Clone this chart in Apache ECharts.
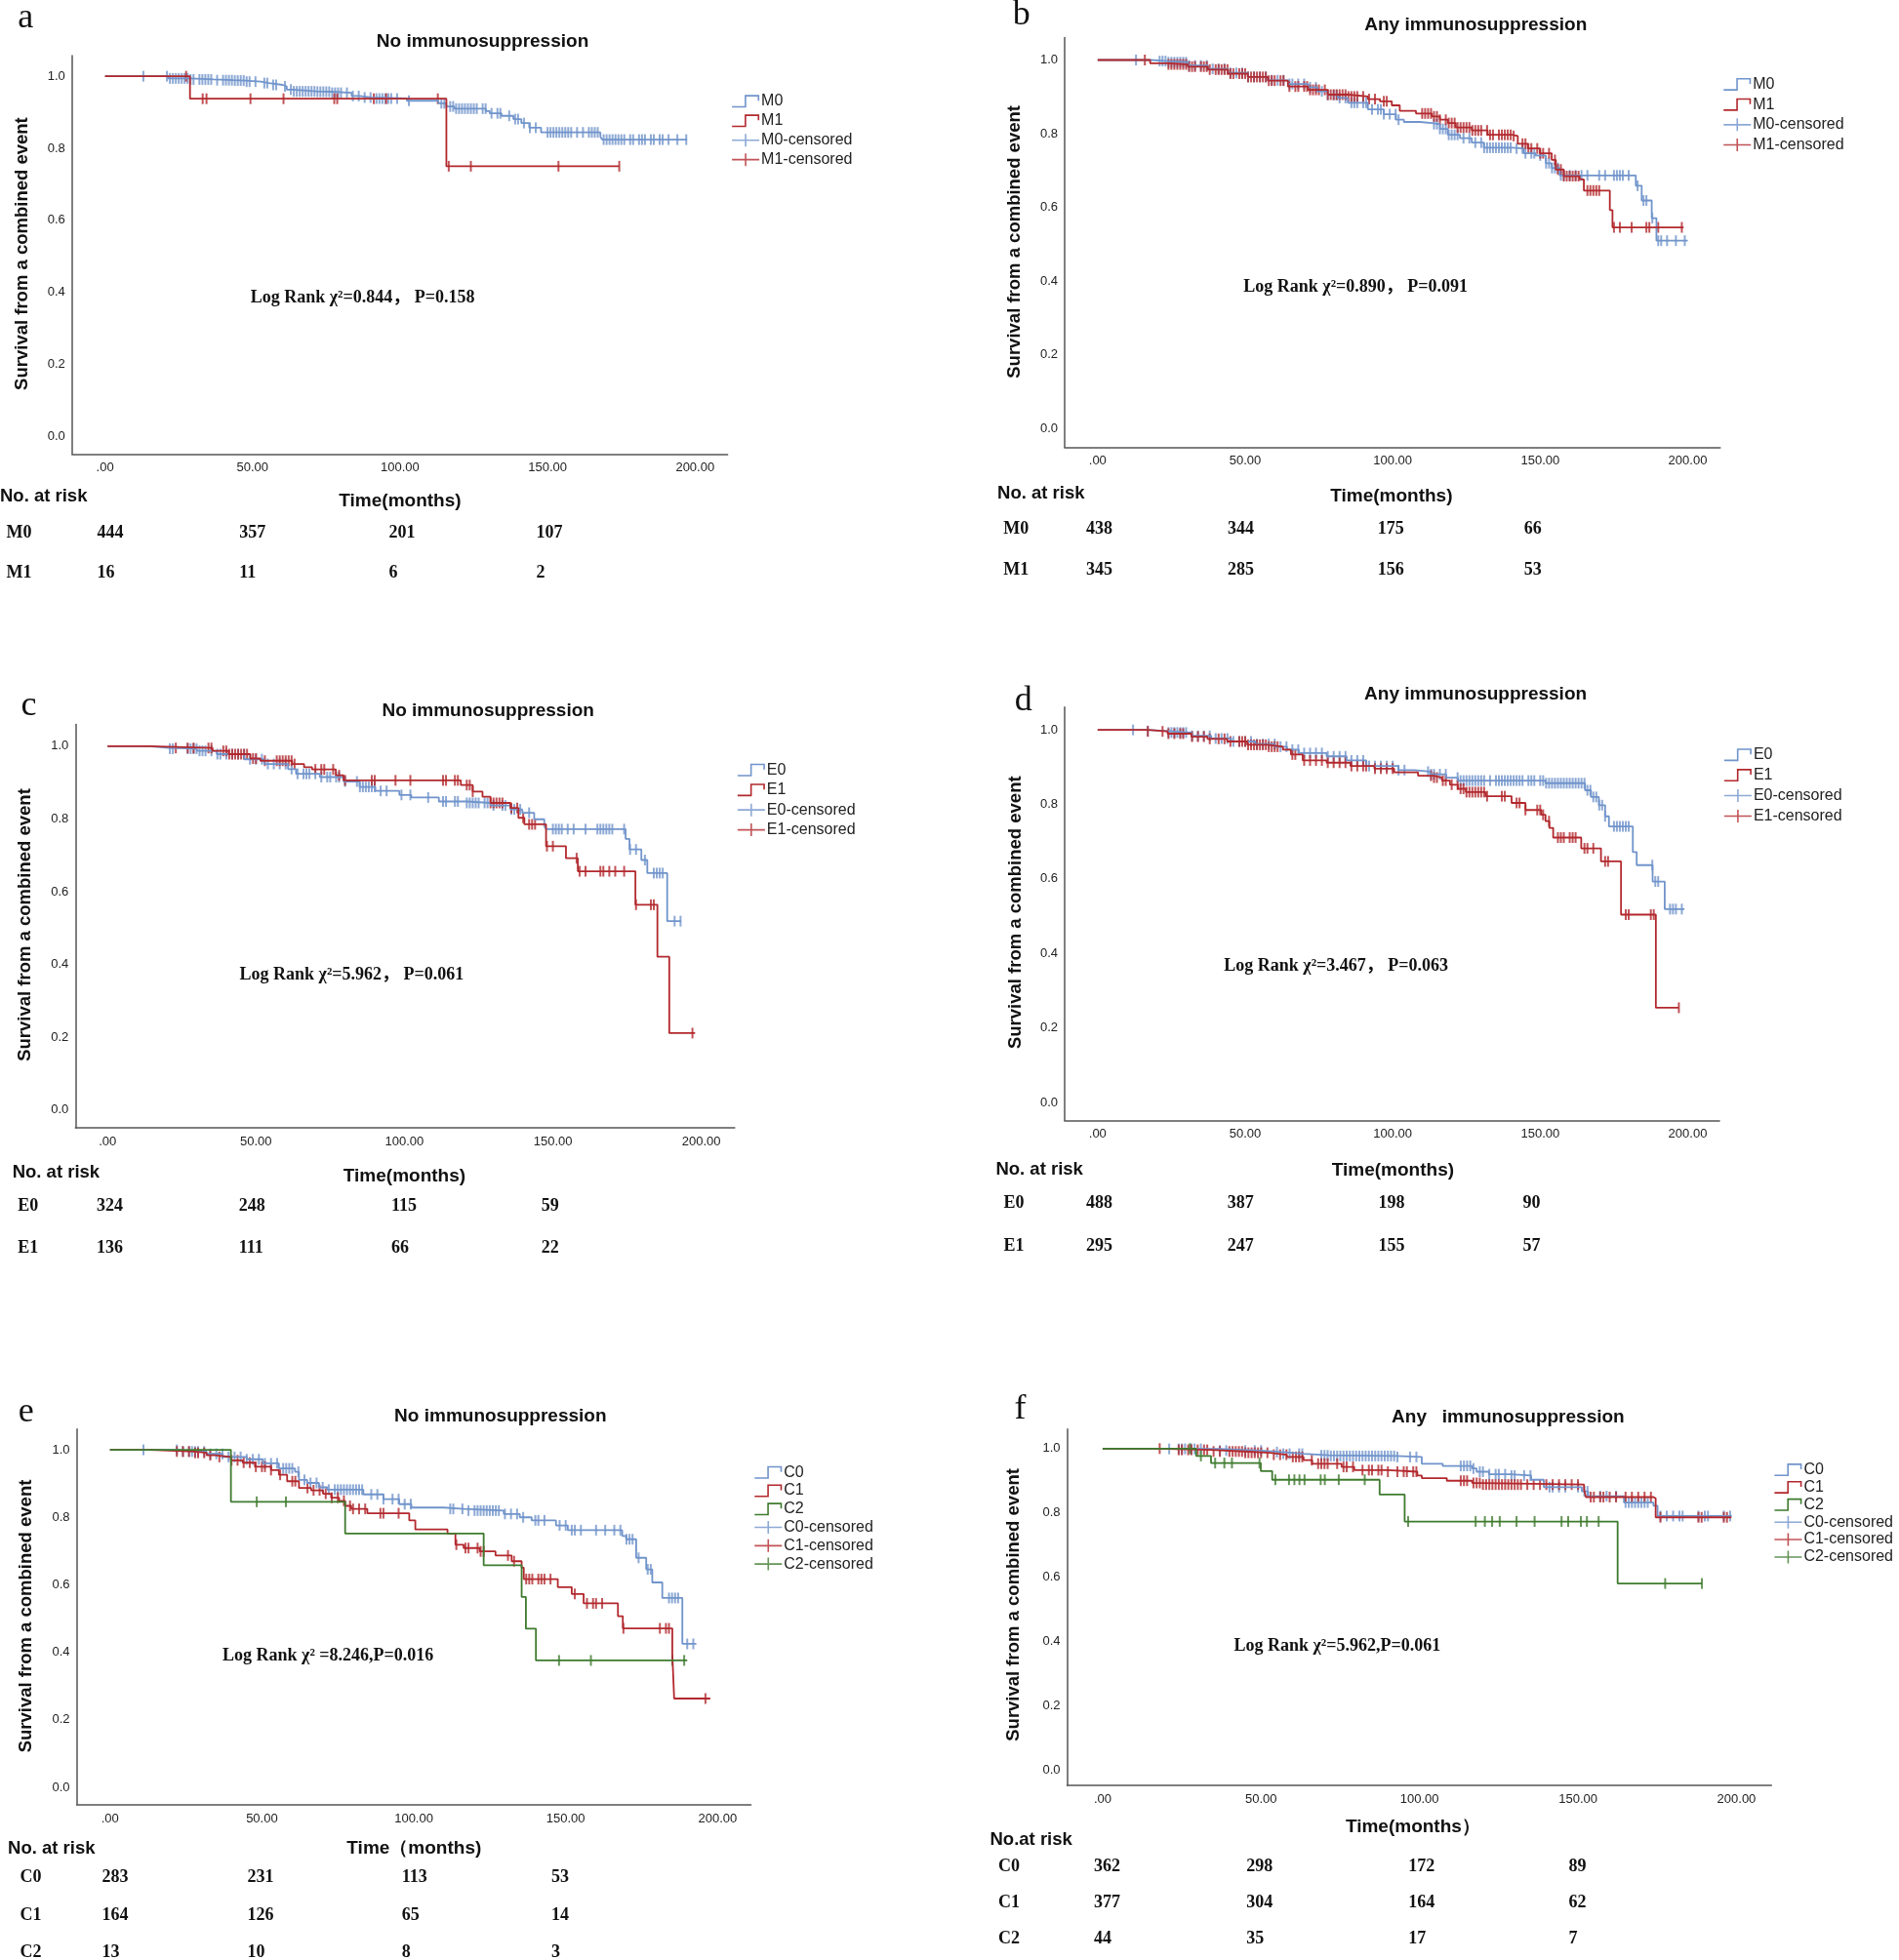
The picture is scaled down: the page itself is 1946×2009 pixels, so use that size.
<!DOCTYPE html>
<html>
<head>
<meta charset="utf-8">
<title>Survival from a combined event</title>
<script src="https://cdn.jsdelivr.net/npm/echarts@6/dist/echarts.min.js"></script>
<style>
html, body { margin: 0; padding: 0; background: #fff; }
#chart { width: 1946px; height: 2009px; }
</style>
</head>
<body>
<div id="chart"></div>
<script>
// ---- data: step points [months, survival] and censored times (months) ----
var a_M0_steps = [[0,1],[21.4,0.994],[28.8,0.991],[36.8,0.989],[43.5,0.988],[47.5,0.985],[52.9,0.981],[55.5,0.976],[60.2,0.972],[61.6,0.963],[63.6,0.958],[71.6,0.957],[76.9,0.954],[83.6,0.945],[86.3,0.941],[90.3,0.938],[102.3,0.932],[113.0,0.925],[115.7,0.916],[118.4,0.910],[129.1,0.903],[130.4,0.897],[134.4,0.890],[138.4,0.881],[141.1,0.870],[143.8,0.857],[147.8,0.844],[167.9,0.832],[168.5,0.824],[197.3,0.824]];
var a_M0_cens = [13,21,22,23,24,25,26,27,28,29,30,32,33,34,35,36,38,40,41,42,43,44,45,46,47,48,49,51,54,55,57,58,61,63,64,65,66,67,68,69,70,71,72,73,74,75,76,77,78,79,80,82,84,86,88,90,92,93,94,95,96,97,99,103,114,115,117,118,119,120,121,122,123,124,125,126,128,129,131,133,134,137,139,140,142,144,146,150,151,152,153,154,155,156,157,158,160,162,164,165,166,167,169,170,171,172,173,174,175,176,178,179,181,182,183,185,186,188,189,191,194,197];
var a_M1_steps = [[0,1],[28.8,0.9375],[115.7,0.75],[174.3,0.75]];
var a_M1_cens = [27.5,33.1,34.4,49.3,60.5,77.7,78.7,91.1,95.3,112.8,116.5,124,153.7,174.3];

var b_M0_steps = [[0,1],[18,0.997],[23.8,0.994],[30.6,0.985],[37.4,0.976],[44.2,0.965],[50.9,0.954],[57.7,0.945],[64.5,0.935],[71.3,0.926],[74.5,0.915],[78,0.905],[81.5,0.897],[84.8,0.884],[91.6,0.866],[97.0,0.853],[101.1,0.838],[103.8,0.832],[109.2,0.829],[113.3,0.826],[116.0,0.813],[118.7,0.797],[122.8,0.788],[126.8,0.776],[130.9,0.762],[140.4,0.760],[144.4,0.747],[148.5,0.741],[151.9,0.720],[153.9,0.707],[156.6,0.687],[182.4,0.659],[184.4,0.619],[187.8,0.571],[189.4,0.510],[200,0.510]];
var b_M0_cens = [13,21,22,23,24,25,26,27,28,29,30,31,33,35,37,39,41,43,45,47,49,51,53,55,57,59,61,63,65,66,68,70,72,74,76,78,80,81,82,84,86,87,88,90,91,93,95,96,97,99,101,102,114,115,116,117,118,119,120,121,122,124,126,128,130,131,132,133,134,135,136,137,138,139,140,142,144,145,147,148,150,152,153,154,155,156,157,158,160,162,164,166,170,172,175,176,177,178,180,183,185,186,188,190,191,193,196,199];
var b_M1_steps = [[0,1],[17.8,0.991],[23.8,0.988],[30.6,0.982],[37.4,0.974],[44.2,0.963],[50.9,0.954],[57.7,0.944],[64.5,0.928],[71.3,0.919],[78.0,0.906],[84.8,0.901],[91.6,0.894],[95.7,0.888],[99.7,0.877],[102.4,0.862],[107.9,0.855],[113.3,0.847],[116.0,0.838],[118.7,0.829],[121.4,0.817],[126.8,0.809],[132.2,0.797],[140.4,0.794],[142.4,0.773],[145.8,0.760],[149.9,0.747],[153.9,0.729],[155.3,0.703],[158.0,0.685],[163.4,0.676],[164.8,0.646],[173.6,0.593],[174.5,0.546],[198.6,0.546]];
var b_M1_cens = [16,24,25,26,27,28,29,30,31,32,33,35,36,37,38,40,41,42,43,44,45,46,48,49,50,51,52,53,54,55,56,57,58,59,60,62,63,65,67,68,70,71,72,73,74,75,77,78,79,80,81,82,83,84,85,86,87,88,90,92,94,97,98,110,111,112,113,114,115,116,118,119,120,121,122,123,124,125,126,127,128,129,130,132,133,134,136,137,138,139,140,141,144,145,146,147,149,150,151,153,155,156,157,158,159,160,161,162,163,166,167,168,169,170,175,177,181,186,187,190,198];

var c_E0_steps = [[0,1],[14,0.995],[20.7,0.993],[30.1,0.987],[36.8,0.978],[46.1,0.964],[52.8,0.951],[60.8,0.937],[63.5,0.924],[71.5,0.915],[79.5,0.903],[84.9,0.888],[90.2,0.877],[98.3,0.866],[102.3,0.859],[111.6,0.848],[121.0,0.844],[129.0,0.837],[135.7,0.826],[139.7,0.817],[143.7,0.799],[147.1,0.781],[147.7,0.772],[174.5,0.745],[175.8,0.716],[179.8,0.687],[181.8,0.651],[188.5,0.519],[193.2,0.519]];
var c_E0_cens = [21,22,27,28,29,30,31,32,33,35,37,38,40,42,44,46,48,50,52,54,56,58,60,62,64,66,67,68,70,72,74,75,77,78,80,84,85,86,87,88,89,90,92,94,99,102,108,113,114,117,118,121,122,123,124,125,127,128,130,133,134,136,137,139,142,150,151,152,153,155,157,161,165,166,167,168,169,170,174,176,178,181,184,185,186,187,191,193];
var c_E1_steps = [[0,1],[14,0.995],[35.4,0.987],[40.8,0.978],[48.1,0.966],[51.5,0.960],[62.2,0.951],[66.2,0.942],[68.9,0.936],[76.9,0.920],[79.5,0.906],[119.0,0.893],[123.0,0.875],[126.3,0.861],[129.0,0.844],[135.7,0.830],[138.4,0.803],[140.4,0.785],[147.7,0.725],[154.4,0.692],[158.4,0.656],[177.8,0.564],[185.2,0.421],[189.2,0.211],[197.9,0.211]];
var c_E1_cens = [23,27,29,34,35,39,40,41,42,43,44,45,46,47,49,50,53,57,58,59,60,61,62,63,70,72,73,76,78,80,89,90,97,102,113,114,117,118,121,122,123,129,130,131,132,133,136,138,140,142,143,144,148,150,158,159,161,166,167,169,171,174,178,183,184,197];

var d_E0_steps = [[0,1],[17,0.997],[23.7,0.993],[31.8,0.984],[38.5,0.977],[45.3,0.969],[53.4,0.962],[60.1,0.955],[64.2,0.947],[68.2,0.938],[77.6,0.929],[84.4,0.918],[91.1,0.903],[101.9,0.892],[107.3,0.888],[112.7,0.881],[118.1,0.872],[122.1,0.864],[151.8,0.857],[165.2,0.838],[167.2,0.820],[169.9,0.798],[172.0,0.768],[173.3,0.741],[181.4,0.672],[182.7,0.637],[188.1,0.593],[192.2,0.519],[198.9,0.519]];
var d_E0_cens = [12,17,24,25,26,27,28,29,30,32,34,36,38,40,42,44,46,48,50,52,54,56,58,60,62,64,66,68,70,72,74,76,78,80,82,84,86,88,90,92,94,96,98,100,102,104,112,113,114,116,118,122,123,124,125,126,127,128,129,130,131,133,135,136,137,138,139,140,141,142,143,144,146,147,148,150,151,152,153,154,155,156,157,158,159,160,161,162,163,164,165,166,167,168,169,170,171,172,175,176,177,178,179,180,188,189,190,194,195,196,198];
var d_E1_steps = [[0,1],[17,0.996],[23.7,0.990],[31.8,0.982],[37.2,0.976],[43.9,0.969],[50.7,0.960],[57.4,0.955],[62.8,0.947],[65.5,0.934],[69.5,0.918],[77.6,0.912],[85.7,0.903],[93.8,0.896],[100.5,0.886],[108.6,0.877],[114.0,0.872],[116.7,0.864],[119.4,0.853],[122.1,0.842],[124.8,0.833],[131.5,0.822],[140.3,0.804],[145.0,0.785],[150.4,0.772],[151.8,0.755],[153.1,0.737],[154.4,0.711],[163.9,0.682],[170.6,0.647],[177.4,0.504],[189.2,0.254],[196.9,0.254]];
var d_E1_cens = [17,22,24,26,28,29,32,34,36,38,41,43,45,48,49,50,51,52,53,54,55,56,57,58,59,60,61,66,67,70,72,74,76,78,80,82,84,86,88,90,91,94,96,98,100,113,114,115,117,118,120,122,123,124,125,126,127,128,129,130,131,132,137,138,142,143,145,149,150,151,153,156,157,158,160,161,162,165,166,168,172,173,179,180,187.5,188.5,197];

var e_C0_steps = [[0,1],[22.6,0.997],[23.9,0.995],[31.8,0.988],[37.1,0.979],[45,0.972],[50.3,0.960],[55.6,0.945],[60.9,0.935],[62.2,0.911],[64.9,0.902],[68.8,0.889],[71.5,0.882],[83.4,0.868],[90.0,0.854],[95.2,0.839],[99.2,0.829],[109.8,0.825],[116.4,0.820],[129.6,0.810],[134.9,0.800],[138.8,0.791],[146.8,0.776],[150.7,0.762],[168.6,0.745],[169.9,0.735],[173.2,0.680],[176.5,0.646],[178.5,0.607],[181.8,0.561],[188.4,0.425],[193,0.425]];
var e_C0_cens = [11,22,24,26,27,28,29,31,33,35,37,39,41,43,45,47,49,51,53,55,57,58,59,60,62,64,66,68,70,72,74,75,76,77,78,79,80,81,82,83,86,88,90,93,95,97,99,112,113,116,118,120,121,122,123,124,125,126,127,128,130,132,134,136,140,141,143,148,150,152,153,155,160,163,166,168,170,171,172,174,177,178,184,185,186,187,190,192];
var e_C1_steps = [[0,1],[13.3,0.995],[27.9,0.991],[31.8,0.984],[34.5,0.979],[39.8,0.969],[43.7,0.962],[47.7,0.950],[53.0,0.940],[55.6,0.926],[58.3,0.907],[62.2,0.887],[66.2,0.880],[70.1,0.870],[72.8,0.858],[75.4,0.849],[77.4,0.834],[79.4,0.825],[84.7,0.812],[98.5,0.791],[100.5,0.764],[111.1,0.752],[113.7,0.719],[116.4,0.709],[121.7,0.699],[126.9,0.687],[132.2,0.670],[135.5,0.651],[136.2,0.617],[147.4,0.593],[152.0,0.573],[155.9,0.545],[167.2,0.507],[168.8,0.471],[185.1,0.396],[185.7,0.263],[197.6,0.263]];
var e_C1_cens = [22,24,26,28,29,31,33,36,40,42,44,46,48,50,51,53,56,60,61,65,67,69,71,73,75,77,79,80,82,84,89,90,95,114,117,118,121,122,123,131,133,137,138,139,141,142,143,145,153,157,159,160,162,169,181,183,184,196];
var e_C2_steps = [[0,1],[39.8,0.846],[77.4,0.752],[123,0.658],[135.5,0.564],[136.9,0.470],[140.2,0.376],[190,0.376]];
var e_C2_cens = [48.3,57.9,147.8,158.3,185.1,189];

var f_C0_steps = [[0,1],[20.9,0.999],[36.8,0.994],[50.1,0.989],[56.8,0.984],[63.4,0.979],[71.4,0.977],[92.7,0.974],[100.7,0.953],[107.3,0.946],[116.6,0.938],[118.0,0.928],[121.9,0.920],[128.6,0.916],[135.2,0.903],[139.2,0.880],[151.2,0.867],[153.2,0.852],[164.5,0.832],[173.8,0.822],[175.1,0.790],[198.5,0.790]];
var f_C0_cens = [21,24,25,26,28,29,31,37,39,45,48,50,55,57,59,62,63,69,70,71,72,73,74,75,76,77,78,79,80,81,82,83,84,85,86,87,88,89,90,91,92,93,97,99,113,114,115,116,117,119,120,122,124,125,127,129,130,133,135,141,142,144,146,150,152,153,157,159,162,165,166,167,168,169,170,171,172,176,178,180,182,183,188,190,191,196,198];
var f_C1_steps = [[0,1],[18.2,0.998],[23.5,0.996],[34.2,0.991],[44.8,0.987],[52.8,0.981],[58.1,0.974],[63.4,0.964],[66.1,0.953],[75.4,0.943],[79.4,0.933],[90.0,0.928],[99.3,0.916],[100.7,0.908],[108.6,0.900],[116.6,0.893],[119.3,0.888],[151.9,0.872],[152.5,0.849],[173.8,0.845],[174.5,0.786],[198.4,0.786]];
var f_C1_cens = [18,24,25,27,28,30,32,33,35,37,40,41,42,43,44,45,46,47,48,49,50,52,54,56,58,60,61,62,63,66,68,69,70,71,74,76,77,79,82,84,85,87,88,90,93,95,96,98,99,113,114,115,117,118,119,120,121,122,123,124,125,126,127,128,129,130,131,132,134,136,138,140,142,144,146,148,150,154,155,157,158,160,162,165,167,169,171,173,176,188,189,196,197];
var f_C2_steps = [[0,1],[29.5,0.977],[34.2,0.955],[49.9,0.930],[53.5,0.903],[87.4,0.857],[95.3,0.773],[162.5,0.580],[189.1,0.580]];
var f_C2_cens = [27.5,31,35.5,38.4,40.8,49.5,54.5,58.8,60.5,62.1,63.7,68.8,70.1,74.5,82.7,96.4,117.7,120.6,122.9,125.3,130.6,136.3,144.8,146.9,150.9,152.8,156.5,177.5,189.1];

// ---- numbers at risk (at 0, 50, 100, 150 months) ----
var a_risk_M0 = [444, 357, 201, 107];
var a_risk_M1 = [16, 11, 6, 2];
var b_risk_M0 = [438, 344, 175, 66];
var b_risk_M1 = [345, 285, 156, 53];
var c_risk_E0 = [324, 248, 115, 59];
var c_risk_E1 = [136, 111, 66, 22];
var d_risk_E0 = [488, 387, 198, 90];
var d_risk_E1 = [295, 247, 155, 57];
var e_risk_C0 = [283, 231, 113, 53];
var e_risk_C1 = [164, 126, 65, 14];
var e_risk_C2 = [13, 10, 8, 3];
var f_risk_C0 = [362, 298, 172, 89];
var f_risk_C1 = [377, 304, 164, 62];
var f_risk_C2 = [44, 35, 17, 7];

var xTicks = [0, 50, 100, 150, 200];
var yTicks = [0, 0.2, 0.4, 0.6, 0.8, 1.0];

// ---- layout (measured on a 1519-wide copy, scaled up) ----
var S = 1946 / 1519;
var BLUE = '#7094cb', RED = '#b2282d', GREEN = '#3e7b2e';
var SANS = '"Liberation Sans", Arial, sans-serif';
var SERIF = '"Liberation Serif", "Times New Roman", "Noto Sans CJK SC", serif';

var panels = [
  { letter: 'a', letterPos: [20.4, 14.2], title: 'No immunosuppression', titlePos: [386, 33.6],
    box: [57.6, 44.4, 582, 363.2], x0: 84, x200: 556, y1: 61, y0: 349, yTitle: [18, 203],
    logRank: 'Log Rank \u03c7\u00b2=0.844\uff0c P=0.158', logPos: [200.4, 238],
    legend: [585.5, 81, 15.4], atRisk: ['No. at risk', 0, 397.6], time: ['Time(months)', 320, 400.7],
    curves: [['M0', a_M0_steps, a_M0_cens, BLUE], ['M1', a_M1_steps, a_M1_cens, RED]],
    risk: [['M0', a_risk_M0], ['M1', a_risk_M1]], riskLabelX: 5, riskCols: [77.7, 191.5, 311, 429], riskRows: [426.3, 458.6] },
  { letter: 'b', letterPos: [817, 12.5], title: 'Any immunosuppression', titlePos: [1180.4, 20.3],
    box: [851.6, 30.1, 1376, 357.8], x0: 878, x200: 1350, y1: 48, y0: 343, yTitle: [811.7, 193.5],
    logRank: 'Log Rank \u03c7\u00b2=0.890\uff0c P=0.091', logPos: [994.7, 229.9],
    legend: [1378.7, 67.4, 16], atRisk: ['No. at risk', 797.8, 394.8], time: ['Time(months)', 1113, 397],
    curves: [['M0', b_M0_steps, b_M0_cens, BLUE], ['M1', b_M1_steps, b_M1_cens, RED]],
    risk: [['M0', b_risk_M0], ['M1', b_risk_M1]], riskLabelX: 802.6, riskCols: [868.7, 982, 1102, 1219], riskRows: [423, 456.5] },
  { letter: 'c', letterPos: [23, 564.6], title: 'No immunosuppression', titlePos: [390.4, 569],
    box: [60.3, 579.5, 587.7, 902.3], x0: 86, x200: 561, y1: 597, y0: 888, yTitle: [20.6, 740],
    logRank: 'Log Rank \u03c7\u00b2=5.962\uff0c P=0.061', logPos: [191.7, 779.9],
    legend: [590, 616, 15.8], atRisk: ['No. at risk', 9.9, 938.3], time: ['Time(months)', 323.5, 941],
    curves: [['E0', c_E0_steps, c_E0_cens, BLUE], ['E1', c_E1_steps, c_E1_cens, RED]],
    risk: [['E0', c_risk_E0], ['E1', c_risk_E1]], riskLabelX: 14.3, riskCols: [77.2, 191, 313, 433], riskRows: [965.3, 998.4] },
  { letter: 'd', letterPos: [818.6, 561], title: 'Any immunosuppression', titlePos: [1180.3, 555.3],
    box: [851.6, 565.8, 1375.4, 896.4], x0: 878, x200: 1350, y1: 584, y0: 882, yTitle: [812.4, 730],
    logRank: 'Log Rank \u03c7\u00b2=3.467\uff0c P=0.063', logPos: [979.1, 773.4],
    legend: [1379.2, 603.8, 16.2], atRisk: ['No. at risk', 796.5, 935.6], time: ['Time(months)', 1114.2, 936.3],
    curves: [['E0', d_E0_steps, d_E0_cens, BLUE], ['E1', d_E1_steps, d_E1_cens, RED]],
    risk: [['E0', d_risk_E0], ['E1', d_risk_E1]], riskLabelX: 802.8, riskCols: [868.7, 981.7, 1102.5, 1218], riskRows: [962.8, 997] },
  { letter: 'e', letterPos: [20.9, 1129.6], title: 'No immunosuppression', titlePos: [400.3, 1133.5],
    box: [61.3, 1143.3, 600.7, 1443.7], x0: 88, x200: 574, y1: 1160, y0: 1430, yTitle: [20.9, 1293],
    logRank: 'Log Rank \u03c7\u00b2 =8.246,P=0.016', logPos: [178, 1324.8],
    legend: [603.6, 1178, 14.5], atRisk: ['No. at risk', 6.3, 1479.2], time: ['Time\uff08months)', 331.2, 1479.2],
    curves: [['C0', e_C0_steps, e_C0_cens, BLUE], ['C1', e_C1_steps, e_C1_cens, RED], ['C2', e_C2_steps, e_C2_cens, GREEN]],
    risk: [['C0', e_risk_C0], ['C1', e_risk_C1], ['C2', e_risk_C2]], riskLabelX: 16, riskCols: [81.5, 197.8, 321.4, 441], riskRows: [1502, 1532.5, 1562.3] },
  { letter: 'f', letterPos: [816, 1127.3], title: 'Any   immunosuppression', titlePos: [1206.3, 1134],
    box: [853.6, 1143.3, 1417, 1428.4], x0: 882, x200: 1389, y1: 1159, y0: 1416, yTitle: [810.8, 1284],
    logRank: 'Log Rank \u03c7\u00b2=5.962,P=0.061', logPos: [987, 1317.4],
    legend: [1419.4, 1175.9, 13.8], atRisk: ['No.at risk', 791.9, 1472], time: ['Time(months\uff09', 1130.2, 1462.2],
    curves: [['C0', f_C0_steps, f_C0_cens, BLUE], ['C1', f_C1_steps, f_C1_cens, RED], ['C2', f_C2_steps, f_C2_cens, GREEN]],
    risk: [['C0', f_risk_C0], ['C1', f_risk_C1], ['C2', f_risk_C2]], riskLabelX: 798.6, riskCols: [875, 997, 1126.5, 1254.8], riskRows: [1493.8, 1522.5, 1551.2] }
];

var STEP_ICON = 'path://M0,11.4L13,11.4L13,0L28,0L28,6L26.4,6L26.4,1.6L14.6,1.6L14.6,13L0,13Z';
var CENS_ICON = 'path://M0,5.7L13.2,5.7L13.2,0L14.8,0L14.8,5.7L28,5.7L28,7.3L14.8,7.3L14.8,13L13.2,13L13.2,7.3L0,7.3Z';

// survival value of a KM step curve at time t
function survAt(steps, t) {
    var s = 1;
    for (var i = 0; i < steps.length; i++) {
        if (steps[i][0] <= t) s = steps[i][1];
        else break;
    }
    return s;
}

function txt(x, y, text, font, align, vAlign, rotation) {
    return {
        type: 'text', x: x * S, y: y * S, rotation: rotation || 0, silent: true,
        style: {
            text: text, font: font, fill: '#111',
            align: align, verticalAlign: vAlign,
            textAlign: align, textVerticalAlign: vAlign
        }
    };
}

var grids = [], xAxes = [], yAxes = [], series = [], legends = [], graphics = [];

panels.forEach(function (p, i) {
    var L = p.box[0], T = p.box[1], R = p.box[2], B = p.box[3];
    var ppm = (p.x200 - p.x0) / 200;   // px per month
    var ppu = p.y0 - p.y1;              // px per 1.0 survival
    grids.push({ left: L * S, top: T * S, width: (R - L) * S, height: (B - T) * S });
    xAxes.push({
        gridIndex: i, type: 'value',
        min: (L - p.x0) / ppm, max: (R - p.x0) / ppm,
        axisLine: { show: true, onZero: false, lineStyle: { color: '#555', width: 1.5 } },
        axisTick: { show: false }, splitLine: { show: false },
        axisLabel: {
            customValues: xTicks, margin: 8, color: '#222', fontSize: 13, fontFamily: SANS,
            formatter: function (v) { return v === 0 ? '.00' : v.toFixed(2); }
        }
    });
    yAxes.push({
        gridIndex: i, type: 'value',
        min: -(B - p.y0) / ppu, max: 1 + (p.y1 - T) / ppu,
        axisLine: { show: true, onZero: false, lineStyle: { color: '#555', width: 1.5 } },
        axisTick: { show: false }, splitLine: { show: false },
        axisLabel: {
            customValues: yTicks, margin: 7, color: '#222', fontSize: 13, fontFamily: SANS,
            formatter: function (v) { return v.toFixed(1); }
        }
    });

    var names = [], cnames = [];
    p.curves.forEach(function (c) {
        series.push({
            name: c[0], type: 'line', step: 'end', xAxisIndex: i, yAxisIndex: i,
            data: c[1], showSymbol: false, symbol: 'none', color: c[3],
            lineStyle: { color: c[3], width: 1.8 }, animation: false, silent: true
        });
        names.push(c[0]);
    });
    p.curves.forEach(function (c) {
        series.push({
            name: c[0] + '-censored', type: 'scatter', xAxisIndex: i, yAxisIndex: i,
            data: c[2].map(function (t) { return [t, survAt(c[1], t)]; }),
            symbol: 'rect', symbolSize: [2, 11], color: c[3],
            itemStyle: { color: c[3] }, animation: false, silent: true
        });
        cnames.push(c[0] + '-censored');
    });

    var rowH = 15.8;   // effective legend row height (text box)
    legends.push({
        orient: 'vertical', selectedMode: false, padding: 0,
        left: p.legend[0] * S, top: p.legend[1] * S - rowH / 2,
        itemWidth: 28, itemHeight: 13, itemGap: p.legend[2] * S - rowH,
        textStyle: { fontSize: 16, fontFamily: SANS, color: '#222', padding: [0, 0, 0, -3] },
        data: names.map(function (n) { return { name: n, icon: STEP_ICON }; })
            .concat(cnames.map(function (n) { return { name: n, icon: CENS_ICON }; }))
    });

    graphics.push(txt(p.letterPos[0], p.letterPos[1], p.letter, '36px ' + SERIF, 'center', 'middle'));
    graphics.push(txt(p.titlePos[0], p.titlePos[1], p.title, 'bold 19px ' + SANS, 'center', 'middle'));
    graphics.push(txt(p.yTitle[0], p.yTitle[1], 'Survival from a combined event', 'bold 18.5px ' + SANS, 'center', 'middle', Math.PI / 2));
    graphics.push(txt(p.logPos[0], p.logPos[1], p.logRank, 'bold 18px ' + SERIF, 'left', 'middle'));
    graphics.push(txt(p.atRisk[1], p.atRisk[2], p.atRisk[0], 'bold 18.5px ' + SANS, 'left', 'middle'));
    graphics.push(txt(p.time[1], p.time[2], p.time[0], 'bold 19px ' + SANS, 'center', 'middle'));
    p.risk.forEach(function (r, k) {
        var y = p.riskRows[k];
        graphics.push(txt(p.riskLabelX, y, r[0], 'bold 18px ' + SERIF, 'left', 'middle'));
        r[1].forEach(function (n, j) {
            graphics.push(txt(p.riskCols[j], y, String(n), 'bold 18px ' + SERIF, 'left', 'middle'));
        });
    });
});

var chart = echarts.init(document.getElementById('chart'), null, { renderer: 'canvas' });
chart.setOption({
    backgroundColor: '#fff',
    animation: false,
    grid: grids,
    xAxis: xAxes,
    yAxis: yAxes,
    legend: legends,
    series: series,
    graphic: { elements: graphics }
});
</script>
</body>
</html>
